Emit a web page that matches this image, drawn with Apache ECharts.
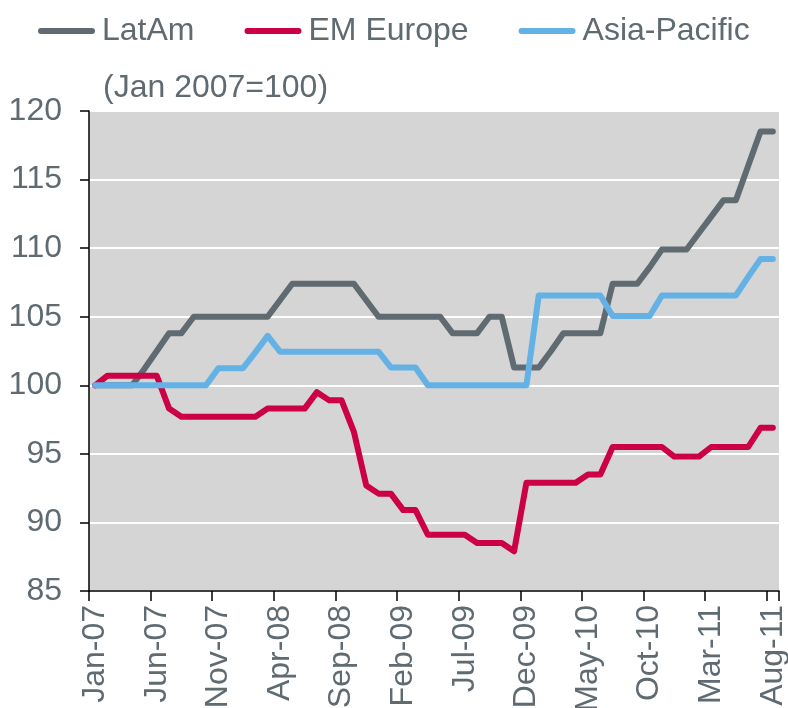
<!DOCTYPE html>
<html>
<head>
<meta charset="utf-8">
<script src="https://cdn.jsdelivr.net/npm/echarts@6/dist/echarts.min.js"></script>
<style>
html,body{margin:0;padding:0;background:#fff;}
#c{width:788px;height:708px;}
</style>
</head>
<body>
<div id="c"></div>
<script>
const months = [
  'Jan-07','Feb-07','Mar-07','Apr-07','May-07','Jun-07','Jul-07','Aug-07','Sep-07','Oct-07','Nov-07','Dec-07',
  'Jan-08','Feb-08','Mar-08','Apr-08','May-08','Jun-08','Jul-08','Aug-08','Sep-08','Oct-08','Nov-08','Dec-08',
  'Jan-09','Feb-09','Mar-09','Apr-09','May-09','Jun-09','Jul-09','Aug-09','Sep-09','Oct-09','Nov-09','Dec-09',
  'Jan-10','Feb-10','Mar-10','Apr-10','May-10','Jun-10','Jul-10','Aug-10','Sep-10','Oct-10','Nov-10','Dec-10',
  'Jan-11','Feb-11','Mar-11','Apr-11','May-11','Jun-11','Jul-11','Aug-11'
];
const latAm = [
  100,100,100,100,101.2,102.5,103.8,103.8,105,105,105,105,
  105,105,105,106.2,107.4,107.4,107.4,107.4,107.4,107.4,106.2,105,
  105,105,105,105,105,103.8,103.8,103.8,105,105,101.3,101.3,
  101.3,102.5,103.8,103.8,103.8,103.8,107.4,107.4,107.4,108.6,109.9,109.9,
  109.9,111.1,112.3,113.5,113.5,116,118.5,118.5
];
const emEurope = [
  100,100.7,100.7,100.7,100.7,100.7,98.3,97.7,97.7,97.7,97.7,97.7,
  97.7,97.7,98.3,98.3,98.3,98.3,99.5,98.9,98.9,96.6,92.7,92.1,
  92.1,90.9,90.9,89.1,89.1,89.1,89.1,88.5,88.5,88.5,87.9,92.9,
  92.9,92.9,92.9,92.9,93.5,93.5,95.5,95.5,95.5,95.5,95.5,94.8,
  94.8,94.8,95.5,95.5,95.5,95.5,96.9,96.9
];
const asiaPacific = [
  100,100,100,100,100,100,100,100,100,100,101.25,101.25,
  101.25,102.4,103.6,102.45,102.45,102.45,102.45,102.45,102.45,102.45,102.45,102.45,
  101.3,101.3,101.3,100,100,100,100,100,100,100,100,100,
  106.55,106.55,106.55,106.55,106.55,106.55,105.05,105.05,105.05,105.05,106.55,106.55,
  106.55,106.55,106.55,106.55,106.55,107.9,109.2,109.2
];
const seriesNames = ['LatAm','EM Europe','Asia-Pacific'];
const yTicks = {min: 85, max: 120, interval: 5};
const subtitle = '(Jan 2007=100)';

const FONT = 'Liberation Sans, Arial, sans-serif';
const TXT = '#5f6a71';
const colors = ['#5f6a71', '#cc0044', '#63b1e5'];
const capsule = 'path://M3 0H54A3 3 0 0 1 54 6H3A3 3 0 0 1 3 0Z';

const chart = echarts.init(document.getElementById('c'), null, {renderer: 'canvas'});
const mk = (name, data, color) => ({
  name: name, type: 'line', data: data, showSymbol: false, symbol: 'none',
  lineStyle: {color: color, width: 6, cap: 'round', join: 'round'},
  itemStyle: {color: color},
  animation: false
});
chart.setOption({
  animation: false,
  textStyle: {fontFamily: FONT},
  legend: {
    left: 33, top: 10, itemWidth: 57, itemHeight: 6, itemGap: 50,
    icon: capsule,
    textStyle: {fontSize: 32, color: TXT, fontFamily: FONT, padding: [0, 0, 0, 2]},
    data: seriesNames
  },
  graphic: [{
    type: 'text', left: 103, top: 72,
    style: {text: subtitle, fontSize: 32, fill: TXT, fontFamily: FONT}
  }],
  grid: {
    left: 89, top: 111, right: 9, bottom: 117, containLabel: false,
    outerBoundsMode: 'none',
    show: true, backgroundColor: '#d4d5d4', borderWidth: 0
  },
  xAxis: {
    type: 'category', data: months, boundaryGap: true,
    axisLine: {show: true, lineStyle: {color: '#000', width: 1.5}},
    axisTick: {show: true, interval: 4, length: 10, lineStyle: {color: '#000', width: 1.5}},
    axisLabel: {interval: 4, rotate: 90, margin: 14, fontSize: 32, color: TXT, fontFamily: FONT},
    splitLine: {show: false}
  },
  yAxis: {
    type: 'value', min: yTicks.min, max: yTicks.max, interval: yTicks.interval,
    axisLine: {show: true, lineStyle: {color: '#000', width: 1.5}},
    axisTick: {show: true, length: 9, lineStyle: {color: '#000', width: 1.5}},
    axisLabel: {margin: 27, fontSize: 32, color: TXT, fontFamily: FONT},
    splitLine: {show: true, lineStyle: {color: '#ffffff', width: 2}}
  },
  series: [
    mk(seriesNames[0], latAm, colors[0]),
    mk(seriesNames[1], emEurope, colors[1]),
    mk(seriesNames[2], asiaPacific, colors[2])
  ]
});
</script>
</body>
</html>
